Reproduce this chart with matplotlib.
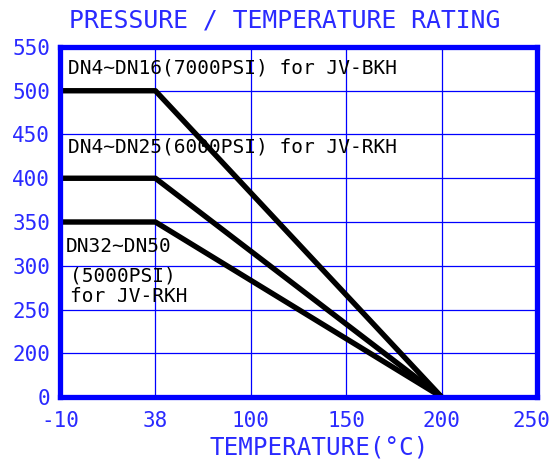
import numpy as np
import matplotlib
matplotlib.use("Agg")
import matplotlib.pyplot as plt
import matplotlib.transforms as mtransforms

# axis tick values (evenly spaced on the chart regardless of value)
x_ticks = [-10, 38, 100, 150, 200, 250]
y_ticks = [0, 200, 250, 300, 350, 400, 450, 500, 550]

# rating curves: temperature (C) vs pressure
temp = [-10, 38, 200]
bkh_7000 = [500, 500, 0]
rkh_6000 = [400, 400, 0]
rkh_5000 = [350, 350, 0]

BLUE = "#0000ff"
TXT_BLUE = "#2a2aff"
FONT = "DejaVu Sans Mono"


def make_scale(ticks):
    pos = np.arange(len(ticks), dtype=float)
    vals = np.asarray(ticks, dtype=float)
    fwd = lambda v: np.interp(v, vals, pos)
    inv = lambda p: np.interp(p, pos, vals)
    return fwd, inv


fig = plt.figure(figsize=(5.53, 4.59), dpi=100)
ax = fig.add_axes([60 / 553, 62 / 459, 477 / 553, 350 / 459])

ax.set_xscale("function", functions=make_scale(x_ticks))
ax.set_yscale("function", functions=make_scale(y_ticks))

for series in (bkh_7000, rkh_6000, rkh_5000):
    ax.plot(temp, series, color="black", linewidth=3.9, solid_capstyle="butt",
            clip_on=False, zorder=3)

ax.set_xlim(-10, 250)
ax.set_ylim(0, 550)
ax.set_xticks(x_ticks)
ax.set_xticklabels([str(v) for v in x_ticks])
ax.set_yticks(y_ticks)
ax.set_yticklabels([str(v) for v in y_ticks])
ax.minorticks_off()
ax.tick_params(length=0, labelcolor=TXT_BLUE, labelsize=15)
ax.tick_params(axis="x", pad=10)
ax.tick_params(axis="y", pad=7)
for lbl in ax.get_xticklabels() + ax.get_yticklabels():
    lbl.set_family(FONT)

# last x label sits right at the figure edge, nudge it in a little
shift = mtransforms.ScaledTranslation(-6 / 100, 0, fig.dpi_scale_trans)
for tick in ax.xaxis.get_major_ticks()[-1:]:
    tick.label1.set_transform(tick.label1.get_transform() + shift)

ax.grid(True, color=BLUE, linewidth=0.9)
for s in ax.spines.values():
    s.set_color(BLUE)
    s.set_linewidth(3.8)
    s.set_zorder(4)

# labels on the curves
ax.text(0.017, 0.94, "DN4~DN16(7000PSI) for JV-BKH", transform=ax.transAxes,
        fontsize=14, family=FONT, va="center", ha="left")
ax.text(0.017, 0.714, "DN4~DN25(6000PSI) for JV-RKH", transform=ax.transAxes,
        fontsize=14, family=FONT, va="center", ha="left")
ax.text(0.013, 0.4286, "DN32~DN50", transform=ax.transAxes,
        fontsize=14, family=FONT, va="center", ha="left")
ax.text(0.021, 0.346, "(5000PSI)", transform=ax.transAxes,
        fontsize=14, family=FONT, va="center", ha="left")
ax.text(0.021, 0.286, "for JV-RKH", transform=ax.transAxes,
        fontsize=14, family=FONT, va="center", ha="left")

fig.text(285 / 553, 1 - 20 / 459, "PRESSURE / TEMPERATURE RATING",
         color=TXT_BLUE, fontsize=17.8, family=FONT, ha="center", va="center")
fig.text(319 / 553, 1 - 447 / 459, "TEMPERATURE(°C)",
         color=TXT_BLUE, fontsize=17.5, family=FONT, ha="center", va="center")

fig.savefig("out.png", dpi=100)
